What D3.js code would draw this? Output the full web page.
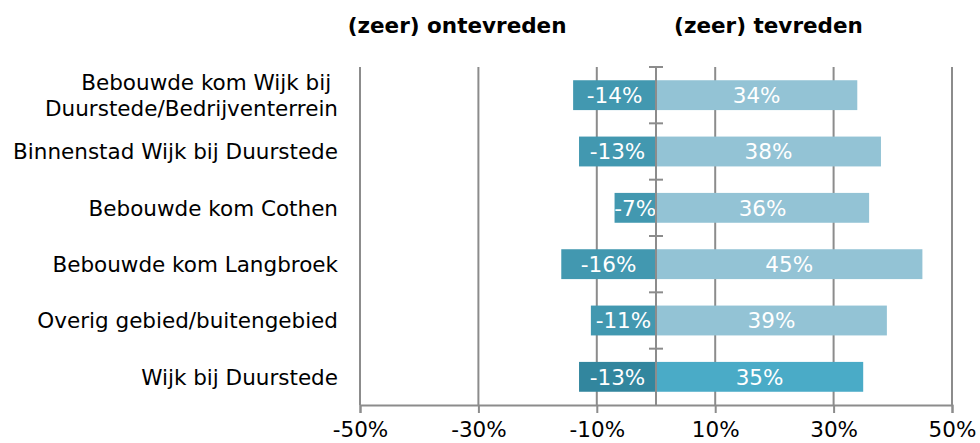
<!DOCTYPE html>
<html>
<head>
<meta charset="utf-8">
<script src="https://cdn.jsdelivr.net/npm/d3@7"></script>
<style>
  body { margin: 0; background: #fff; }
  svg { font-family: "DejaVu Sans", Verdana, sans-serif; }
  .cat-label { white-space: pre; }
</style>
</head>
<body>
<svg id="chart" width="980" height="443"></svg>
<script>
// Categories (top to bottom), each as its text lines
const categories = [
    ['Bebouwde kom Wijk bij ', 'Duurstede/Bedrijventerrein'],
    ['Binnenstad Wijk bij Duurstede'],
    ['Bebouwde kom Cothen'],
    ['Bebouwde kom Langbroek'],
    ['Overig gebied/buitengebied'],
    ['Wijk bij Duurstede']
];

// Percentage (zeer) ontevreden, shown as negative
const dissatisfied = [-14, -13, -7, -16, -11, -13];
// Percentage (zeer) tevreden
const satisfied = [34, 38, 36, 45, 39, 35];

const tickValues = [-50, -30, -10, 10, 30, 50];
const headers = ['(zeer) ontevreden', '(zeer) tevreden'];

// Colours: the last row (total) is drawn darker
const negColor = '#4298b0', posColor = '#93c3d5';
const negTotalColor = '#32869e', posTotalColor = '#4aabc7';
const gridColor = '#8c8c8c';
const fontSize = '21.5px';

const svg = d3.select('#chart');
const margin = { top: 67, right: 28, bottom: 38, left: 360 };
const width = 980 - margin.left - margin.right;
const height = 443 - margin.top - margin.bottom;

const x = d3.scaleLinear().domain([-50, 50]).range([0, width]);
const y = d3.scaleBand()
    .domain(d3.range(categories.length))
    .range([0, height])
    .paddingInner(0.47)
    .paddingOuter(0.235);

const g = svg.append('g').attr('transform', `translate(${margin.left},${margin.top})`);

// Vertical gridlines
g.selectAll('.grid')
    .data(tickValues)
    .enter()
    .append('line')
    .attr('x1', d => x(d))
    .attr('x2', d => x(d))
    .attr('y1', 0)
    .attr('y2', height)
    .attr('stroke', gridColor)
    .attr('stroke-width', 2);

// Bottom axis
const xAxis = d3.axisBottom(x)
    .tickValues(tickValues)
    .tickSize(8)
    .tickPadding(9)
    .tickFormat(d => d + '%');

const axisG = g.append('g')
    .attr('transform', `translate(0,${height})`)
    .call(xAxis);
axisG.select('.domain').attr('stroke', gridColor).attr('stroke-width', 2);
axisG.selectAll('.tick line').attr('stroke', gridColor).attr('stroke-width', 2);
axisG.selectAll('.tick text')
    .attr('fill', '#000')
    .style('font-size', fontSize)
    .style('font-family', '"DejaVu Sans", Verdana, sans-serif');

const rows = categories.map((c, i) => ({ i, neg: dissatisfied[i], pos: satisfied[i] }));
const last = categories.length - 1;

// Negative bars
g.selectAll('.bar-neg')
    .data(rows)
    .enter()
    .append('rect')
    .attr('x', d => x(d.neg))
    .attr('y', d => y(d.i))
    .attr('width', d => x(0) - x(d.neg))
    .attr('height', y.bandwidth())
    .attr('fill', d => d.i === last ? negTotalColor : negColor);

// Positive bars
g.selectAll('.bar-pos')
    .data(rows)
    .enter()
    .append('rect')
    .attr('x', x(0))
    .attr('y', d => y(d.i))
    .attr('width', d => x(d.pos) - x(0))
    .attr('height', y.bandwidth())
    .attr('fill', d => d.i === last ? posTotalColor : posColor);

// Bar value labels
g.selectAll('.lbl-neg')
    .data(rows)
    .enter()
    .append('text')
    .attr('x', d => (x(d.neg) + x(0)) / 2)
    .attr('y', d => y(d.i) + y.bandwidth() / 2)
    .attr('dy', '0.36em')
    .attr('text-anchor', 'middle')
    .attr('fill', '#fff')
    .style('font-size', fontSize)
    .text(d => d.neg + '%');

g.selectAll('.lbl-pos')
    .data(rows)
    .enter()
    .append('text')
    .attr('x', d => (x(d.pos) + x(0)) / 2)
    .attr('y', d => y(d.i) + y.bandwidth() / 2)
    .attr('dy', '0.36em')
    .attr('text-anchor', 'middle')
    .attr('fill', '#fff')
    .style('font-size', fontSize)
    .text(d => d.pos + '%');

// Category axis at zero, with ticks between categories
g.append('line')
    .attr('x1', x(0)).attr('x2', x(0))
    .attr('y1', 0).attr('y2', height)
    .attr('stroke', gridColor)
    .attr('stroke-width', 2);

g.selectAll('.cat-tick')
    .data(d3.range(categories.length))
    .enter()
    .append('line')
    .attr('x1', x(0) - 7)
    .attr('x2', x(0) + 7)
    .attr('y1', d => d * y.step())
    .attr('y2', d => d * y.step())
    .attr('stroke', gridColor)
    .attr('stroke-width', 2);

// Category labels
const catText = svg.selectAll('.cat-label')
    .data(categories)
    .enter()
    .append('text')
    .attr('class', 'cat-label')
    .attr('text-anchor', 'end')
    .attr('fill', '#000')
    .style('font-size', fontSize)
    .attr('transform', (d, i) => `translate(${margin.left - 22},${margin.top + y(i) + y.bandwidth() / 2})`);

catText.selectAll('tspan')
    .data(d => d.map((t, k) => ({ t, k, n: d.length })))
    .enter()
    .append('tspan')
    .attr('x', 0)
    .attr('y', d => (d.k - (d.n - 1) / 2) * 26)
    .attr('dy', '0.36em')
    .text(d => d.t);

// Headers above the two halves
svg.selectAll('.header')
    .data(headers)
    .enter()
    .append('text')
    .attr('x', (d, i) => margin.left + (i === 0 ? x(-33.6) : x(19)))
    .attr('y', 33)
    .attr('text-anchor', 'middle')
    .attr('font-weight', 'bold')
    .attr('fill', '#000')
    .style('font-size', fontSize)
    .text(d => d);
</script>
</body>
</html>
